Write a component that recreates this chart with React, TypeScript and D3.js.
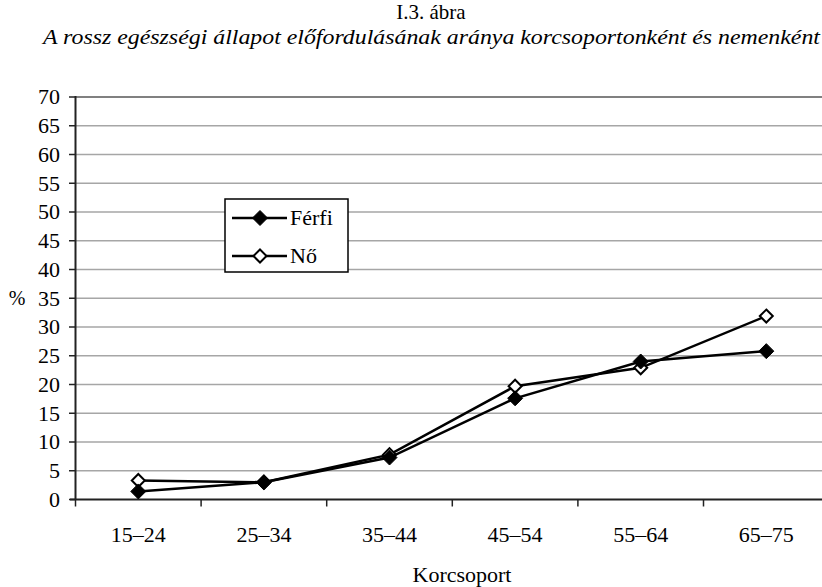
import React from "react";
import * as d3 from "d3";

const categories = ["15–24", "25–34", "35–44", "45–54", "55–64", "65–75"];
const ferfi = [1.4, 3.0, 7.3, 17.6, 24.0, 25.8];
const no = [3.3, 3.0, 7.8, 19.7, 22.9, 31.9];
const yTicks = [0, 5, 10, 15, 20, 25, 30, 35, 40, 45, 50, 55, 60, 65, 70];
const seriesNames = ["Férfi", "Nő"];

const W = 822;
const H = 587;
const FONT = "'Liberation Serif', 'DejaVu Serif', serif";

export default function App() {
  const x = d3.scaleBand<string>().domain(categories).range([75.5, 75.5 + 6 * 125.6]).paddingInner(0).paddingOuter(0);
  const y = d3.scaleLinear().domain([0, 70]).range([499.5, 97]);
  const cx = (c: string) => (x(c) as number) + x.bandwidth() / 2;
  const line = d3
    .line<number>()
    .x((_, i) => cx(categories[i]))
    .y((d) => y(d));
  const diamond = (px: number, py: number, r: number) =>
    `M${px},${py - r}L${px + r},${py}L${px},${py + r}L${px - r},${py}Z`;

  const legendX = 225;
  const legendY = 199;

  return (
    <svg
      width={W}
      height={H}
      style={{ position: "absolute", left: 0, top: 0, background: "#fff" }}
      fontFamily={FONT}
    >
      <rect x={0} y={0} width={W} height={H} fill="#fff" />
      <text x={431} y={19} textAnchor="middle" fontSize={21} fill="#000">
        I.3. ábra
      </text>
      <text
        x={43}
        y={44}
        fontSize={21}
        fontStyle="italic"
        fill="#000"
        textLength={777}
        lengthAdjust="spacingAndGlyphs"
      >
        A rossz egészségi állapot előfordulásának aránya korcsoportonként és nemenként
      </text>

      {/* gridlines */}
      {yTicks.filter((t) => t > 0).map((t) => (
        <line
          key={t}
          x1={75}
          x2={W}
          y1={y(t)}
          y2={y(t)}
          stroke={t === 70 ? "#808080" : "#a6a6a6"}
          strokeWidth={t === 70 ? 2 : 1.5}
        />
      ))}

      {/* y axis */}
      <line x1={75.5} x2={75.5} y1={96} y2={500} stroke="#222" strokeWidth={2} />
      {yTicks.map((t) => (
        <g key={t}>
          <line x1={69} x2={75} y1={y(t)} y2={y(t)} stroke="#222" strokeWidth={1.5} />
          <text x={60} y={y(t)} dy="0.34em" textAnchor="end" fontSize={22} fill="#000">
            {t}
          </text>
        </g>
      ))}
      <text x={17} y={y(35)} dy="0.34em" textAnchor="middle" fontSize={20} fill="#000">
        %
      </text>

      {/* x axis */}
      <line x1={70} x2={W} y1={y(0)} y2={y(0)} stroke="#222" strokeWidth={2} />
      {categories.map((c) => (
        <g key={c}>
          <line x1={x(c) as number} x2={x(c) as number} y1={y(0)} y2={y(0) + 7} stroke="#222" strokeWidth={1.5} />
          <text x={cx(c)} y={542} textAnchor="middle" fontSize={22} fill="#000">
            {c}
          </text>
        </g>
      ))}
      <text x={462} y={582} textAnchor="middle" fontSize={22} fill="#000">
        Korcsoport
      </text>

      {/* series: Nő first, Férfi on top */}
      <path d={line(no) as string} fill="none" stroke="#000" strokeWidth={2.5} />
      {no.map((v, i) => (
        <path key={"n" + i} d={diamond(cx(categories[i]), y(v), 6.5)} fill="#fff" stroke="#000" strokeWidth={2} />
      ))}
      <path d={line(ferfi) as string} fill="none" stroke="#000" strokeWidth={2.5} />
      {ferfi.map((v, i) => (
        <path key={"f" + i} d={diamond(cx(categories[i]), y(v), 7.5)} fill="#000" stroke="#000" strokeWidth={1} />
      ))}

      {/* legend */}
      <rect x={legendX} y={legendY} width={123} height={73} fill="#fff" stroke="#000" strokeWidth={1.5} />
      {seriesNames.map((name, i) => {
        const ry = legendY + 19 + i * 38;
        return (
          <g key={name}>
            <line x1={232} x2={287} y1={ry} y2={ry} stroke="#000" strokeWidth={2.5} />
            {i === 0 ? (
              <path d={diamond(260, ry, 7.5)} fill="#000" stroke="#000" strokeWidth={1} />
            ) : (
              <path d={diamond(260, ry, 6.5)} fill="#fff" stroke="#000" strokeWidth={2} />
            )}
            <text x={290} y={ry} dy="0.34em" fontSize={22} fill="#000">
              {name}
            </text>
          </g>
        );
      })}
    </svg>
  );
}
